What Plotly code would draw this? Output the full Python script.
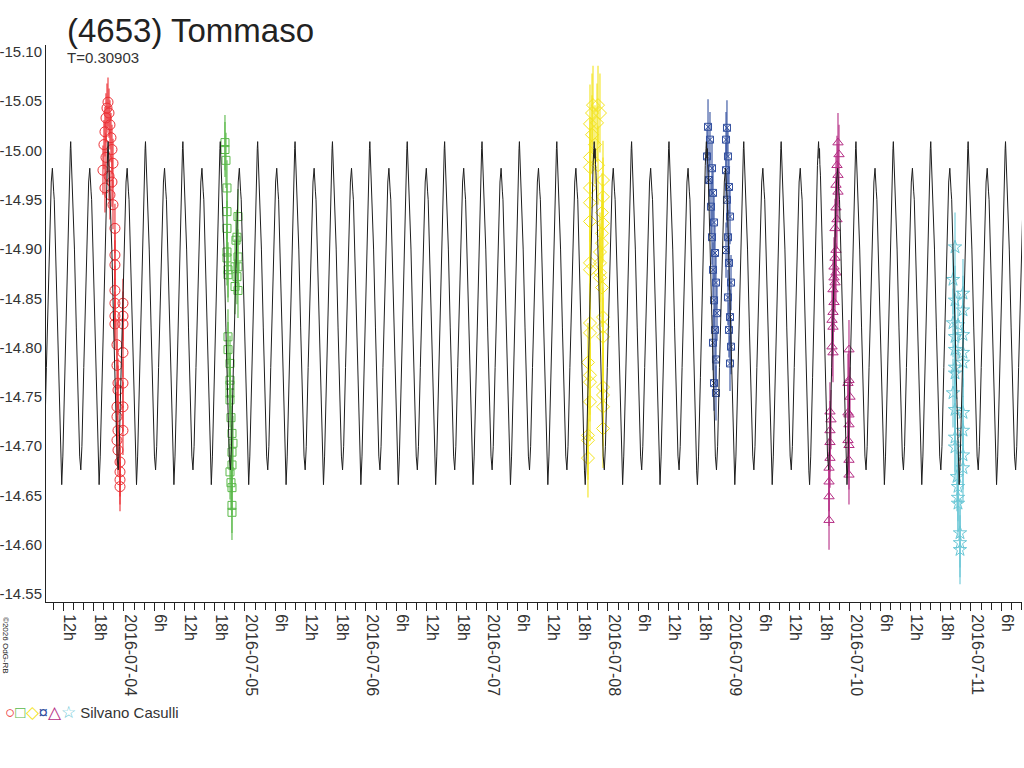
#!/usr/bin/env python3
"""
Lightcurve of asteroid (4653) Tommaso, sessions 2016-07-03 .. 2016-07-10
"""

import plotly.graph_objects as go
import pandas as pd

# --- model curve: one period, phase 0 = higher maximum
period_days = 0.30903
epoch = "2016-07-06 08:11"
curve_phase = [0.00, 0.015, 0.025, 0.035, 0.05, 0.10, 0.15, 0.20, 0.24, 0.27, 0.30,
               0.35, 0.40, 0.45, 0.48, 0.51, 0.525, 0.535, 0.545, 0.56, 0.61, 0.66,
               0.71, 0.74, 0.76, 0.79, 0.84, 0.89, 0.94, 0.97, 0.99]
curve_mag = [-15.009, -14.992, -15.002, -14.986, -14.975, -14.90, -14.82, -14.74, -14.69,
             -14.676, -14.70, -14.78, -14.86, -14.94, -14.968, -14.982, -14.962, -14.975,
             -14.958, -14.950, -14.87, -14.79, -14.71, -14.675, -14.661, -14.69, -14.77,
             -14.86, -14.95, -14.985, -15.002]

# --- observing sessions (hours after the session date, reduced magnitude)
red_day = "2016-07-03"
red_hours = [20.83, 20.63, 21.03, 20.43, 21.22, 20.23, 21.42, 20.03, 21.62, 20.43, 21.82,
             19.83, 21.03, 21.62, 20.23, 21.22, 21.82, 22.21, 22.21, 22.21, 22.21, 22.21,
             23.80, 22.21, 23.80, 22.21, 23.80, 22.61, 23.80, 22.61, 22.81, 23.80, 22.81,
             22.61, 23.80, 22.61, 22.81, 23.80, 22.61, 22.81, 23.21, 23.21, 23.21, 23.21]
red_mag = [-15.049, -15.043, -15.038, -15.033, -15.026, -15.019, -15.013, -15.006, -15.001,
           -14.993, -14.987, -14.980, -14.974, -14.968, -14.962, -14.955, -14.945, -14.921,
           -14.894, -14.884, -14.858, -14.845, -14.845, -14.832, -14.832, -14.824, -14.824,
           -14.803, -14.795, -14.782, -14.764, -14.764, -14.757, -14.740, -14.740, -14.730,
           -14.716, -14.716, -14.706, -14.696, -14.684, -14.674, -14.666, -14.659]

green_day = "2016-07-04"
green_hours = [20.03, 20.03, 20.23, 20.43, 20.43, 20.43, 22.61, 22.41, 22.21, 22.61, 20.43,
               20.43, 20.63, 20.63, 22.02, 22.61, 22.41, 22.02, 22.61, 20.63, 20.63, 21.03,
               21.03, 21.03, 21.03, 21.03, 21.22, 21.42, 21.62, 21.42, 21.42, 21.03, 21.22,
               21.42, 21.42, 21.42]
green_mag = [-15.008, -15.001, -14.990, -14.962, -14.938, -14.921, -14.933, -14.912, -14.909,
             -14.892, -14.897, -14.891, -14.879, -14.874, -14.882, -14.882, -14.872, -14.862,
             -14.858, -14.811, -14.798, -14.784, -14.767, -14.762, -14.754, -14.747, -14.729,
             -14.713, -14.703, -14.694, -14.681, -14.674, -14.663, -14.658, -14.640, -14.633]

yellow_day = "2016-07-07"
yellow_hours = [21.03, 22.02, 20.83, 22.41, 20.43, 21.82, 20.83, 21.42, 20.43, 20.43, 22.02,
                23.01, 20.43, 23.01, 20.43, 22.81, 20.43, 23.01, 22.81, 22.81, 22.41, 20.43,
                20.43, 22.41, 22.41, 22.41, 22.81, 20.43, 23.01, 20.43, 23.01, 23.01, 20.03,
                20.43, 20.43, 20.43, 23.01, 23.01, 23.01, 23.01, 20.03, 20.03, 20.03]
yellow_mag = [-15.046, -15.046, -15.038, -15.038, -15.027, -15.028, -15.016, -15.006, -14.993,
              -14.983, -14.985, -14.970, -14.962, -14.953, -14.947, -14.937, -14.928, -14.926,
              -14.916, -14.906, -14.897, -14.886, -14.879, -14.886, -14.876, -14.871, -14.861,
              -14.825, -14.831, -14.815, -14.821, -14.811, -14.785, -14.772, -14.765, -14.745,
              -14.760, -14.752, -14.740, -14.718, -14.711, -14.706, -14.688]

blue_day = "2016-07-08"
blue_hours = [19.84, 20.23, 19.64, 20.63, 20.03, 20.83, 20.43, 21.03, 20.63, 21.22, 20.83,
              21.42, 21.03, 21.62, 21.22, 20.83, 21.42, 21.03, 21.42,
              23.60, 23.41, 23.80, 23.41, 24.00, 23.60, 24.20, 23.80, 23.41, 24.00, 24.40,
              23.80, 24.20, 24.00, 24.40, 24.20]
blue_mag = [-15.024, -15.011, -14.994, -14.982, -14.970, -14.957, -14.943, -14.927, -14.912,
            -14.896, -14.879, -14.866, -14.848, -14.835, -14.818, -14.805, -14.788, -14.764,
            -14.754,
            -15.023, -15.011, -14.994, -14.980, -14.963, -14.950, -14.933, -14.912, -14.899,
            -14.886, -14.866, -14.851, -14.831, -14.818, -14.801, -14.784]

magenta_day = "2016-07-09"
magenta_hours = [21.62, 21.82, 21.42, 21.62, 21.22, 21.62, 21.22, 21.42, 21.03, 21.22, 21.03,
                 20.83, 21.22, 20.83, 21.03, 20.63, 20.83, 20.63, 20.43, 20.63, 20.43, 20.63,
                 20.03, 20.23, 20.03, 20.03, 20.03, 19.84, 19.84, 19.84, 19.84,
                 23.80, 23.80, 23.60, 24.00, 23.60, 23.80, 23.80, 23.60, 23.80, 23.80, 23.80]
magenta_mag = [-15.008, -14.996, -14.985, -14.975, -14.965, -14.958, -14.942, -14.930, -14.921,
               -14.899, -14.891, -14.882, -14.876, -14.871, -14.866, -14.859, -14.846, -14.836,
               -14.828, -14.821, -14.801, -14.795, -14.735, -14.727, -14.716, -14.704, -14.688,
               -14.678, -14.664, -14.649, -14.625,
               -14.798, -14.767, -14.764, -14.750, -14.734, -14.732, -14.722, -14.706, -14.701,
               -14.686, -14.671]

cyan_day = "2016-07-10"
cyan_hours = [20.83, 20.43, 22.41, 20.83, 22.41, 20.43, 21.42, 20.83, 22.41, 20.83, 22.41,
              22.41, 20.83, 20.83, 20.43, 20.83, 22.41, 22.41, 20.83, 20.83, 22.41, 22.41,
              21.22, 21.42, 21.42, 21.42, 21.82, 21.82, 21.82]
cyan_mag = [-14.902, -14.869, -14.855, -14.848, -14.838, -14.825, -14.823, -14.811, -14.813,
            -14.798, -14.795, -14.785, -14.780, -14.774, -14.754, -14.737, -14.734, -14.716,
            -14.709, -14.699, -14.691, -14.678, -14.669, -14.659, -14.648, -14.642, -14.612,
            -14.602, -14.595]

ytick_vals = [-15.10, -15.05, -15.00, -14.95, -14.90, -14.85, -14.80, -14.75, -14.70,
              -14.65, -14.60, -14.55]
ytick_text = ["-15.10", "-15.05", "-15.00", "-14.95", "-14.90", "-14.85", "-14.80",
              "-14.75", "-14.70", "-14.65", "-14.60", "-14.55"]

x_start = "2016-07-03 08:32"
x_end = "2016-07-11 10:07"

FONT = "Liberation Sans, Arial, sans-serif"


def session_times(day, hours):
    base = pd.Timestamp(day)
    return [base + pd.Timedelta(hours=h) for h in hours]


def model_curve():
    """Tile the single-period profile over the plotted time range"""
    t0 = pd.Timestamp(epoch)
    start = pd.Timestamp(x_start)
    end = pd.Timestamp(x_end)
    p = pd.Timedelta(days=period_days)
    k = int((start - t0) / p) - 1
    xs, ys = [], []
    while t0 + k * p < end + p:
        for ph, m in zip(curve_phase, curve_mag):
            xs.append(t0 + (k + ph) * p)
            ys.append(m)
        k += 1
    return xs, ys


def create_lightcurve():
    sessions = [
        (red_day, red_hours, red_mag, "circle-open", 10, "#ec3035", 0.025),
        (green_day, green_hours, green_mag, "square-open", 8, "#5bb94a", 0.028),
        (yellow_day, yellow_hours, yellow_mag, "diamond-open", 10, "#f3e41d", 0.04),
        (blue_day, blue_hours, blue_mag, "square-x-open", 7, "#33509f", 0.028),
        (magenta_day, magenta_hours, magenta_mag, "triangle-up-open", 9, "#b52d84", 0.03),
        (cyan_day, cyan_hours, cyan_mag, "star-open", 10, "#6ac7d6", 0.035),
    ]

    fig = go.Figure()

    for day, hours, mags, sym, size, col, err in sessions:
        fig.add_trace(go.Scatter(
            x=session_times(day, hours), y=mags, mode="markers",
            marker=dict(symbol=sym, size=size, color=col, line=dict(width=1, color=col)),
            error_y=dict(type="constant", value=err, thickness=1.1, width=0, color=col),
            showlegend=False, hoverinfo="x+y"
        ))

    cx, cy = model_curve()
    fig.add_trace(go.Scatter(
        x=cx, y=cy, mode="lines", line=dict(color="#1e1e1e", width=1),
        showlegend=False, hoverinfo="skip"
    ))

    # tick labels every 6h, minor ticks every 2h
    tickvals = list(pd.date_range("2016-07-03 12:00", "2016-07-11 06:00", freq="6h"))
    ticktext = [t.strftime("%Y-%m-%d") if t.hour == 0 else f"{t.hour}h" for t in tickvals]

    fig.update_xaxes(
        type="date", range=[x_start, x_end], automargin=False,
        tickvals=tickvals, ticktext=ticktext, tickangle=90,
        ticks="outside", ticklen=8, tickcolor="#222", ticklabelshift=6,
        minor=dict(dtick=7200000, tick0="2016-07-04", ticks="outside", ticklen=7,
                   tickcolor="#222", showgrid=False),
        showline=True, linecolor="#222", linewidth=1, showgrid=False, zeroline=False,
        tickfont=dict(family=FONT, size=16, color="#333")
    )
    fig.update_yaxes(
        range=[-14.542, -15.107], tickvals=ytick_vals, ticktext=ytick_text,
        automargin=False, ticks="", showline=True, linecolor="#222", linewidth=1,
        showgrid=False, zeroline=False, ticklabelstandoff=0,
        tickfont=dict(family=FONT, size=15, color="#333")
    )

    sym_span = "<span style='color:{};font-size:17px'>{}</span>"
    legend_text = (sym_span.format("#ec3035", "○") + sym_span.format("#5bb94a", "□")
                   + sym_span.format("#f3e41d", "◇") + sym_span.format("#33509f", "¤")
                   + sym_span.format("#b52d84", "△") + sym_span.format("#6ac7d6", "☆")
                   + " Silvano Casulli")

    annotations = [
        dict(text="(4653) Tommaso", x=65, y=30, font=dict(size=33, color="#222")),
        dict(text="T=0.30903", x=65, y=57, font=dict(size=15, color="#333")),
        dict(text=legend_text, x=3, y=712, font=dict(size=15, color="#333")),
    ]
    for a in annotations:
        px_x, px_y = a.pop("x"), a.pop("y")
        a["font"]["family"] = FONT
        fig.add_annotation(
            x=(px_x - 46) / 976, y=(602 - px_y) / 557, xref="paper", yref="paper",
            xanchor="left", yanchor="middle", showarrow=False, **a
        )
    fig.add_annotation(
        text="©2026 OdG-RB", x=(6 - 46) / 976, y=(602 - 645) / 557,
        xref="paper", yref="paper", xanchor="center", yanchor="middle",
        textangle=90, showarrow=False,
        font=dict(family=FONT, size=8, color="#222")
    )

    fig.update_layout(
        width=1024, height=768,
        margin=dict(l=46, r=2, t=45, b=166),
        paper_bgcolor="white", plot_bgcolor="white",
        showlegend=False
    )
    return fig


if __name__ == "__main__":
    fig = create_lightcurve()
    # drop the default 8px page margin so the figure sits at the window origin
    fig.write_html("out.html", config={"displayModeBar": False},
                   post_script="document.body.style.margin='0';")
